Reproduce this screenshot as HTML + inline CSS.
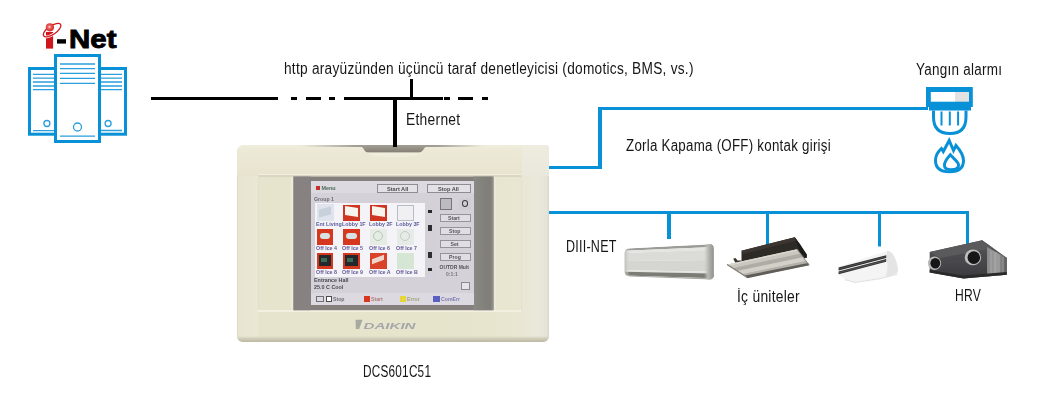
<!DOCTYPE html>
<html><head><meta charset="utf-8">
<style>
html,body{margin:0;padding:0;background:#fff;}
body{width:1049px;height:411px;position:relative;overflow:hidden;font-family:"Liberation Sans",sans-serif;}
.t{position:absolute;white-space:nowrap;color:#161616;font-size:15.8px;line-height:16px;letter-spacing:0.3px;transform-origin:0 0;}
svg{position:absolute;left:0;top:0;}
</style></head><body>

<!-- ===== DCS601C51 device ===== -->
<div style="position:absolute;left:236.5px;top:144.5px;width:312.5px;height:197.2px;border-radius:7px 4px 6px 6px;background:linear-gradient(90deg,#d8d5c2 0px,#e8e5d2 1.5px,#eae7d5 20px,#e7e4cd 22px,#e7e4cc 60%,#e8e5d0 88%,#eae8da 96%,#e6e4d8 99.3%,#d6d4c8 100%);overflow:hidden;">
  <div style="position:absolute;left:0;top:0;width:100%;height:31px;background:linear-gradient(180deg,#f0eddd 0,#ece9d7 5px,#e9e5d1 25px,#e8e3cf 100%);"></div>
  <div style="position:absolute;left:285px;top:0;width:27.5px;height:31px;background:linear-gradient(180deg,#eeecdf,#e9e8dc);"></div>
  <div style="position:absolute;left:64px;top:0;width:182px;height:2.2px;background:linear-gradient(90deg,rgba(140,134,124,0),#a39e94 30%,#958f85 50%,#a39e94 75%,rgba(140,134,124,0));"></div>
  <div style="position:absolute;left:21.5px;top:29.3px;width:263px;height:1.6px;background:#f3f0e1;"></div>
  <div style="position:absolute;left:21.5px;top:30.9px;width:263px;height:1.2px;background:#d9d5c2;"></div>
  <div style="position:absolute;left:21px;top:31px;width:1px;height:135px;background:#e2dfcb;"></div>
  <div style="position:absolute;left:54px;top:32px;width:3px;height:134px;background:#edeadb;"></div>
  <div style="position:absolute;left:257px;top:32px;width:2px;height:134px;background:#ebe8d9;"></div>
  <div style="position:absolute;left:284.5px;top:31px;width:1px;height:135px;background:#e4e1d0;"></div>
  <div style="position:absolute;left:21.5px;top:165.5px;width:263px;height:1.6px;background:#f3f0e1;"></div>
  <div style="position:absolute;left:0;bottom:0;width:100%;height:5.5px;background:linear-gradient(180deg,rgba(200,197,180,0),#cfccb8 45%,#bbb8a4);"></div>
</div>
<svg width="1049" height="411" viewBox="0 0 1049 411">
  <defs><linearGradient id="ng" x1="0" y1="0" x2="0" y2="1"><stop offset="0" stop-color="#a49f95"/><stop offset="1" stop-color="#837e74"/></linearGradient></defs>
  <!-- notch -->
  <path d="M357.5 145.2H430Q426 145.8 424 148.5Q421.5 152.8 418.5 152.8H368.5Q365.5 152.8 363.5 148.5Q361.5 145.8 357.5 145.2Z" fill="url(#ng)"/>
  <path d="M366 152.6H421Q417 157 393 157Q370 157 366 152.6Z" fill="#f0eddc"/>
  <!-- bezel -->
  <rect x="293.5" y="176.6" width="200" height="133.6" fill="#85807d"/>
  <rect x="293.5" y="176.6" width="17" height="133.6" fill="#878281"/>
  <defs><linearGradient id="bzr" x1="0" y1="0" x2="1" y2="0"><stop offset="0" stop-color="#8a8a84"/><stop offset="0.5" stop-color="#82817c"/><stop offset="0.85" stop-color="#7f7e79"/><stop offset="1" stop-color="#97968d"/></linearGradient></defs>
  <rect x="473.5" y="176.6" width="20" height="133.6" fill="url(#bzr)"/>
  <!-- DAIKIN logo -->
  <g filter="url(#soft)">
  <path d="M355.5 319.8H362.5L359.2 329H355.8Z" fill="#a9a9a4"/>
  <text x="363.5" y="328.6" font-family="Liberation Sans" font-weight="bold" font-style="italic" font-size="9" fill="#a6a7aa" textLength="52" lengthAdjust="spacingAndGlyphs">DAIKIN</text>
  </g>
  <filter id="soft"><feGaussianBlur stdDeviation="0.45"/></filter>
</svg>
<!-- LCD -->
<div style="position:absolute;left:311px;top:181px;width:163px;height:124px;background:#d4d2d8;overflow:hidden;filter:blur(0.35px);">
  <div style="position:absolute;left:0px;top:0px;width:163px;height:11.5px;background:#dcdae0;"></div>
  <div style="position:absolute;left:5.3px;top:5px;width:4px;height:3.5px;background:#c4302a;"></div>
  <div style="position:absolute;left:10.5px;top:3.6px;font:bold 5.4px/6px 'Liberation Sans',sans-serif;color:#4d6a58;white-space:nowrap;">Menu</div>
  <div style="position:absolute;left:66.2px;top:3.2px;width:41px;height:8.8px;background:#e3e1e6;border:1px solid #8f8c94;box-sizing:border-box;"></div>
  <div style="position:absolute;left:76px;top:4.5px;font:bold 5.6px/6px 'Liberation Sans',sans-serif;color:#4a4850;white-space:nowrap;">Start All</div>
  <div style="position:absolute;left:115.5px;top:3.2px;width:44.3px;height:8.8px;background:#e3e1e6;border:1px solid #8f8c94;box-sizing:border-box;"></div>
  <div style="position:absolute;left:127px;top:4.5px;font:bold 5.6px/6px 'Liberation Sans',sans-serif;color:#4a4850;white-space:nowrap;">Stop All</div>
  <div style="position:absolute;left:3px;top:15.2px;font:bold 5.2px/6px 'Liberation Sans',sans-serif;color:#6a6874;white-space:nowrap;">Group 1</div>
  <div style="position:absolute;left:3.8px;top:22px;width:110.2px;height:74px;background:#f4f3f7;"></div>
  <div style="position:absolute;left:114px;top:22px;width:10.3px;height:74px;background:#d3d1d7;"></div>
  <div style="position:absolute;left:117px;top:28.5px;width:4px;height:3px;background:#2a2a2e;"></div>
  <div style="position:absolute;left:117px;top:44px;width:3.5px;height:6px;background:#2e2e32;"></div>
  <div style="position:absolute;left:117px;top:71px;width:3.5px;height:6px;background:#2e2e32;"></div>
  <div style="position:absolute;left:117px;top:87px;width:4px;height:3px;background:#2a2a2e;"></div>
  <div style="position:absolute;left:5.5px;top:23px;width:17px;height:16.5px;background:#dfe3ee;"></div>
  <div style="position:absolute;left:8px;top:27px;width:12px;height:8px;background:#c8d0dc;transform:skewY(-15deg);"></div>
  <div style="position:absolute;left:32.2px;top:23.5px;width:16.5px;height:16px;background:#cf3520;"></div>
  <div style="position:absolute;left:34.2px;top:25.5px;width:12.5px;height:9px;background:#f7f4ee;transform:skewY(8deg);"></div>
  <div style="position:absolute;left:59px;top:23.5px;width:16.5px;height:16px;background:#cf3520;"></div>
  <div style="position:absolute;left:61px;top:25.5px;width:12.5px;height:9px;background:#f7f4ee;transform:skewY(8deg);"></div>
  <div style="position:absolute;left:86px;top:23.5px;width:16.5px;height:16px;background:#f0f0f2;border:1px solid #b8bcc4;box-sizing:border-box;"></div>
  <div style="position:absolute;left:5.5px;top:47.5px;width:16.5px;height:16px;background:#d5381f;"></div>
  <div style="position:absolute;left:8.5px;top:52px;width:10.5px;height:6px;background:#d7e2e4;border-radius:3px;"></div>
  <div style="position:absolute;left:32.2px;top:47.5px;width:16.5px;height:16px;background:#d5381f;"></div>
  <div style="position:absolute;left:35.2px;top:52px;width:10.5px;height:6px;background:#d7e2e4;border-radius:3px;"></div>
  <div style="position:absolute;left:59px;top:47.5px;width:16.5px;height:16px;background:#e4ece4;"></div>
  <div style="position:absolute;left:62px;top:50px;width:10px;height:10px;border:1.5px solid #b7c9b9;border-radius:50%;box-sizing:border-box;"></div>
  <div style="position:absolute;left:86px;top:47.5px;width:16.5px;height:16px;background:#e7ebe7;"></div>
  <div style="position:absolute;left:89px;top:50px;width:10px;height:10px;border:1.5px solid #c3cdc3;border-radius:50%;box-sizing:border-box;"></div>
  <div style="position:absolute;left:5.5px;top:71.5px;width:16.5px;height:16px;background:#d5381f;"></div>
  <div style="position:absolute;left:7.5px;top:73.5px;width:12.5px;height:11px;background:#25282a;"></div>
  <div style="position:absolute;left:9.5px;top:77px;width:6px;height:4px;background:#3c6a55;"></div>
  <div style="position:absolute;left:32.2px;top:71.5px;width:16.5px;height:16px;background:#d5381f;"></div>
  <div style="position:absolute;left:34.2px;top:73.5px;width:12.5px;height:11px;background:#25282a;"></div>
  <div style="position:absolute;left:36.2px;top:77px;width:6px;height:4px;background:#3c6a55;"></div>
  <div style="position:absolute;left:59px;top:71.5px;width:16.5px;height:16px;background:#d9432a;"></div>
  <div style="position:absolute;left:61px;top:76px;width:12px;height:5px;background:#edd6cc;transform:skewY(-20deg);"></div>
  <div style="position:absolute;left:86px;top:71.5px;width:16.5px;height:16px;background:#d6e6d4;"></div>
  <div style="position:absolute;left:4.5px;top:39.6px;font:bold 5.6px/6px 'Liberation Sans',sans-serif;color:#3c3f8a;white-space:nowrap;transform:scaleX(0.95);transform-origin:0 0;opacity:.85">Ent Living</div>
  <div style="position:absolute;left:31.2px;top:39.6px;font:bold 5.6px/6px 'Liberation Sans',sans-serif;color:#3c3f8a;white-space:nowrap;transform:scaleX(0.95);transform-origin:0 0;opacity:.85">Lobby 1F</div>
  <div style="position:absolute;left:57.8px;top:39.6px;font:bold 5.6px/6px 'Liberation Sans',sans-serif;color:#3c3f8a;white-space:nowrap;transform:scaleX(0.95);transform-origin:0 0;opacity:.85">Lobby 2F</div>
  <div style="position:absolute;left:84.6px;top:39.6px;font:bold 5.6px/6px 'Liberation Sans',sans-serif;color:#3c3f8a;white-space:nowrap;transform:scaleX(0.95);transform-origin:0 0;opacity:.85">Lobby 3F</div>
  <div style="position:absolute;left:4.5px;top:64.2px;font:bold 5.6px/6px 'Liberation Sans',sans-serif;color:#4a3f86;white-space:nowrap;transform:scaleX(0.95);transform-origin:0 0;opacity:.85">Off Ice 4</div>
  <div style="position:absolute;left:31.2px;top:64.2px;font:bold 5.6px/6px 'Liberation Sans',sans-serif;color:#4a3f86;white-space:nowrap;transform:scaleX(0.95);transform-origin:0 0;opacity:.85">Off Ice 5</div>
  <div style="position:absolute;left:57.8px;top:64.2px;font:bold 5.6px/6px 'Liberation Sans',sans-serif;color:#4a3f86;white-space:nowrap;transform:scaleX(0.95);transform-origin:0 0;opacity:.85">Off Ice 6</div>
  <div style="position:absolute;left:84.6px;top:64.2px;font:bold 5.6px/6px 'Liberation Sans',sans-serif;color:#4a3f86;white-space:nowrap;transform:scaleX(0.95);transform-origin:0 0;opacity:.85">Off Ice 7</div>
  <div style="position:absolute;left:4.5px;top:88px;font:bold 5.6px/6px 'Liberation Sans',sans-serif;color:#4a3f86;white-space:nowrap;transform:scaleX(0.95);transform-origin:0 0;opacity:.85">Off Ice 8</div>
  <div style="position:absolute;left:31.2px;top:88px;font:bold 5.6px/6px 'Liberation Sans',sans-serif;color:#4a3f86;white-space:nowrap;transform:scaleX(0.95);transform-origin:0 0;opacity:.85">Off Ice 9</div>
  <div style="position:absolute;left:57.8px;top:88px;font:bold 5.6px/6px 'Liberation Sans',sans-serif;color:#4a3f86;white-space:nowrap;transform:scaleX(0.95);transform-origin:0 0;opacity:.85">Off Ice A</div>
  <div style="position:absolute;left:84.6px;top:88px;font:bold 5.6px/6px 'Liberation Sans',sans-serif;color:#4a3f86;white-space:nowrap;transform:scaleX(0.95);transform-origin:0 0;opacity:.85">Off Ice B</div>
  <div style="position:absolute;left:3px;top:96.3px;font:bold 5.4px/6px 'Liberation Sans',sans-serif;color:#4a4852;white-space:nowrap;">Entrance Hall</div>
  <div style="position:absolute;left:3px;top:102.5px;font:bold 5.4px/6px 'Liberation Sans',sans-serif;color:#4a4852;white-space:nowrap;">25.0 C  Cool</div>
  <div style="position:absolute;left:128.5px;top:17px;width:12.4px;height:11.5px;background:#bdbbc2;border:1px solid #77757c;box-sizing:border-box;"></div>
  <div style="position:absolute;left:148px;top:17px;width:11.5px;height:11.5px;background:#cfcdd3;"></div>
  <div style="position:absolute;left:150.5px;top:19px;width:6.5px;height:7px;border:1.5px solid #3c3a40;border-radius:50%;box-sizing:border-box;"></div>
  <div style="position:absolute;left:128.5px;top:32.8px;width:31px;height:8.2px;background:#e0dee4;border:1px solid #96939b;box-sizing:border-box;"></div>
  <div style="position:absolute;left:137px;top:34.2px;font:bold 5.2px/6px 'Liberation Sans',sans-serif;color:#55535c;white-space:nowrap;">Start</div>
  <div style="position:absolute;left:128.5px;top:45.8px;width:31px;height:8.2px;background:#e0dee4;border:1px solid #96939b;box-sizing:border-box;"></div>
  <div style="position:absolute;left:138px;top:47.2px;font:bold 5.2px/6px 'Liberation Sans',sans-serif;color:#55535c;white-space:nowrap;">Stop</div>
  <div style="position:absolute;left:128.5px;top:58.8px;width:31px;height:8.2px;background:#e0dee4;border:1px solid #96939b;box-sizing:border-box;"></div>
  <div style="position:absolute;left:139.5px;top:60.2px;font:bold 5.2px/6px 'Liberation Sans',sans-serif;color:#55535c;white-space:nowrap;">Set</div>
  <div style="position:absolute;left:128.5px;top:71.8px;width:31px;height:8.2px;background:#e0dee4;border:1px solid #96939b;box-sizing:border-box;"></div>
  <div style="position:absolute;left:138px;top:73.2px;font:bold 5.2px/6px 'Liberation Sans',sans-serif;color:#55535c;white-space:nowrap;">Prog</div>
  <div style="position:absolute;left:128.5px;top:83px;font:bold 5px/6px 'Liberation Sans',sans-serif;color:#55535c;white-space:nowrap;">OUTDR Mult</div>
  <div style="position:absolute;left:135px;top:90px;font:bold 5px/6px 'Liberation Sans',sans-serif;color:#77757e;white-space:nowrap;">0:1:1</div>
  <div style="position:absolute;left:150px;top:100.7px;width:8.5px;height:8.5px;background:#e6e4e8;border:1px solid #8d8a90;box-sizing:border-box;"></div>
  <div style="position:absolute;left:0px;top:112px;width:163px;height:12px;background:#dcdae0;"></div>
  <div style="position:absolute;left:5px;top:114.5px;width:8px;height:6.5px;border:1px solid #6f6f74;box-sizing:border-box;"></div>
  <div style="position:absolute;left:14.5px;top:114.5px;width:6.5px;height:6.5px;border:1px solid #4c4c50;box-sizing:border-box;background:#fff;"></div>
  <div style="position:absolute;left:22px;top:114.8px;font:bold 5.2px/6px 'Liberation Sans',sans-serif;color:#6d6b74;white-space:nowrap;">Stop</div>
  <div style="position:absolute;left:52.5px;top:114.5px;width:6.5px;height:6.5px;background:#d8361e;"></div>
  <div style="position:absolute;left:60px;top:114.8px;font:bold 5.2px/6px 'Liberation Sans',sans-serif;color:#b07a78;white-space:nowrap;">Start</div>
  <div style="position:absolute;left:88.5px;top:114.5px;width:6.5px;height:6.5px;background:#e6d63a;"></div>
  <div style="position:absolute;left:96px;top:114.8px;font:bold 5.2px/6px 'Liberation Sans',sans-serif;color:#a2a07a;white-space:nowrap;">Error</div>
  <div style="position:absolute;left:122px;top:114.5px;width:6.5px;height:6.5px;background:#5b5fc0;"></div>
  <div style="position:absolute;left:130px;top:114.8px;font:bold 5.2px/6px 'Liberation Sans',sans-serif;color:#7d7bb0;white-space:nowrap;">ComErr</div>
</div>
<svg width="1049" height="411" viewBox="0 0 1049 411">
<!-- ===== servers ===== -->
<g stroke="#0891d7" fill="#fff">
  <rect x="29.5" y="68.5" width="27" height="65.7" stroke-width="3"/>
  <rect x="98.5" y="68.5" width="27" height="65.7" stroke-width="3"/>
  <rect x="55.5" y="55.5" width="44" height="86" stroke-width="3"/>
</g>
<g stroke="#2a9fdd" stroke-width="1.3" fill="none">
  <path d="M33 74.3H54M33 78.2H54M33 82H54M33 86H54M33 89.6H54"/>
  <path d="M101 74.3H122M101 78.2H122M101 82H122M101 86H122M101 89.6H122"/>
  <path d="M60 64H95M60 68.6H95M60 73.4H95M60 78.4H95M60 83.4H95"/>
  <path d="M33 130.7H54M101 130.5H122M60 136.2H95"/>
  <circle cx="46.9" cy="123.5" r="3"/>
  <circle cx="108.1" cy="123.5" r="3"/>
  <circle cx="77.5" cy="127" r="4"/>
</g>
<!-- i-Net logo -->
<g>
  <rect x="46" y="32" width="7.1" height="16.6" fill="#d0161d"/>
  <ellipse cx="52.1" cy="30.1" rx="10.2" ry="4.3" transform="rotate(-34 52.1 30.1)" fill="none" stroke="#fff" stroke-width="2.6"/>
  <ellipse cx="52.1" cy="30.1" rx="10.2" ry="4.3" transform="rotate(-34 52.1 30.1)" fill="none" stroke="#d3161d" stroke-width="1.2"/>
  <radialGradient id="ball" cx="0.45" cy="0.45" r="0.6"><stop offset="0" stop-color="#fbe4dc"/><stop offset="0.35" stop-color="#e8615a"/><stop offset="1" stop-color="#d11b20"/></radialGradient>
  <circle cx="49.9" cy="27.3" r="4.1" fill="url(#ball)"/>
  <rect x="57" y="39.2" width="9" height="4.4" fill="#000"/>
  <text x="69" y="48.4" font-family="Liberation Sans" font-weight="bold" font-size="26.5" fill="#000" stroke="#000" stroke-width="0.9" textLength="47.5" lengthAdjust="spacingAndGlyphs">Net</text>
</g>
<!-- ===== black ethernet lines ===== -->
<g fill="#000">
  <rect x="151" y="97" width="127" height="3"/>
  <rect x="291" y="97" width="6" height="3"/>
  <rect x="306" y="97" width="15" height="3"/>
  <rect x="329" y="97" width="6" height="3"/>
  <rect x="344" y="97" width="99" height="3"/>
  <rect x="444" y="97" width="6" height="3"/>
  <rect x="458" y="97" width="15" height="3"/>
  <rect x="482" y="97" width="6" height="3"/>
  <rect x="410" y="79" width="3" height="19"/>
  <rect x="393" y="97" width="4" height="50"/>
</g>
<!-- ===== blue lines ===== -->
<g fill="#0891d7">
  <rect x="549" y="166" width="53" height="3"/>
  <rect x="598" y="107" width="4" height="62"/>
  <rect x="598" y="107" width="330" height="3"/>
  <rect x="549" y="211" width="420" height="3"/>
  <rect x="667" y="211" width="4" height="28"/>
  <rect x="766" y="211" width="3" height="34"/>
  <rect x="878" y="211" width="3" height="35.5"/>
  <rect x="966" y="211" width="3" height="34"/>
</g>
<!-- ===== fire alarm ===== -->
<g>
  <rect x="926" y="87" width="46.8" height="20" fill="#0891d7"/>
  <rect x="929" y="106" width="42" height="4.5" fill="#0891d7"/>
  <rect x="930.8" y="92" width="24.2" height="9.7" fill="#fff"/>
  <rect x="955" y="92" width="14" height="9.7" fill="#e2e2e2"/>
  <path d="M933.5 110.5V117Q933.5 133.5 950 133.5Q966 133.5 966 117V110.5" fill="none" stroke="#0891d7" stroke-width="3"/>
  <path d="M941.5 111.5V125.5M949.8 111.5V125.5M958.1 111.5V125.5" stroke="#0891d7" stroke-width="2"/>
  <path d="M949.2 140.5L953.5 150.5L956 145.5Q963.5 154 963.5 160.5Q963.5 171.8 949.5 171.8Q935.5 171.8 935.5 160.5Q935.5 154 941.4 148.5L943.3 151.5Z" fill="none" stroke="#0891d7" stroke-width="3" stroke-linejoin="miter"/>
  <path d="M950.3 154.8C954 159 958.6 162 958.6 165.2C958.6 168.3 955 169.6 951 169.6C947 169.6 944.4 168.3 944.4 165.2C944.4 162 947 158.5 950.3 154.8Z" fill="none" stroke="#0891d7" stroke-width="2.9"/>
</g>
</svg>


<!-- ===== indoor units ===== -->
<svg width="1049" height="411" viewBox="0 0 1049 411">
  <defs>
    <filter id="ub" x="-5%" y="-5%" width="110%" height="110%"><feGaussianBlur stdDeviation="0.35"/></filter>
    <clipPath id="wc"><path d="M629 248.4L709 244.1Q713.8 244 713.8 249L713.8 275Q713.8 279.6 709 279.4L630 276.6Q624.6 276.2 624.6 271L624.6 253.5Q624.6 248.7 629 248.4Z"/></clipPath>
    <linearGradient id="wcap" x1="0" y1="0" x2="1" y2="0"><stop offset="0" stop-color="#c9c9c5" stop-opacity="0"/><stop offset="0.4" stop-color="#b9b9b5"/><stop offset="1" stop-color="#8e8e8a"/></linearGradient>
    <linearGradient id="wlc" x1="0" y1="0" x2="1" y2="0"><stop offset="0" stop-color="#b8b8b4"/><stop offset="1" stop-color="#d8d8d4" stop-opacity="0"/></linearGradient>
    <linearGradient id="cp" x1="0" y1="0" x2="1" y2="0.3"><stop offset="0" stop-color="#c9c8c0"/><stop offset="0.5" stop-color="#a9a8a0"/><stop offset="1" stop-color="#d2d1ca"/></linearGradient>
    <linearGradient id="hf" x1="0" y1="0" x2="0" y2="1"><stop offset="0" stop-color="#565658"/><stop offset="0.55" stop-color="#48484b"/><stop offset="1" stop-color="#3a3a3d"/></linearGradient>
    <linearGradient id="hs" x1="0" y1="0" x2="1" y2="0"><stop offset="0" stop-color="#8a8a8a"/><stop offset="0.5" stop-color="#9c9c9c"/><stop offset="1" stop-color="#5a5a5a"/></linearGradient>
  </defs>
  <g filter="url(#ub)">
  <!-- wall-mounted -->
  <g clip-path="url(#wc)">
    <path d="M624.5 248.6L713.8 244.2L713.8 247.0L624.5 250.8Z" fill="#9b9b97"/>
    <path d="M624.5 250.8L713.8 247.0L713.8 249.8L624.5 253.0Z" fill="#e4e4e1"/>
    <path d="M624.5 253.0L713.8 249.8L713.8 260.0L624.5 261.1Z" fill="#dbdbd7"/>
    <path d="M624.5 261.1L713.8 260.0L713.8 271.7L624.5 270.3Z" fill="#d5d5d1"/>
    <path d="M624.5 270.3L713.8 271.7L713.8 273.4L624.5 271.7Z" fill="#e2e2de"/>
    <path d="M624.5 271.7L713.8 273.4L713.8 278.3L624.5 275.6Z" fill="#7c7c77"/>
    <path d="M624.5 275.6L713.8 278.3L713.8 280L624.5 277Z" fill="#a9a9a4"/>
    <rect x="704" y="243" width="10" height="38" fill="url(#wcap)"/>
    <rect x="624" y="246" width="6" height="33" fill="url(#wlc)"/>
  </g>
  <!-- cassette -->
  <path d="M741.5 250.8L794.8 237.3L800 244L806.7 254.4L806.7 258L741.5 262Z" fill="#2f2927"/>
  <path d="M741.5 250.8L794.8 237.3L797 240.5L743 254Z" fill="#3d3633"/>
  <path d="M794.8 237.3L806.7 254.4L806.7 258L800 252Z" fill="#1f1b1a"/>
  <path d="M733.2 258.8L735.5 258L737.5 260.5L741.5 260.5L741.5 262.5L735.5 263Z" fill="#3a3431"/>
  <path d="M727 264.6L797 249.2L809.3 265.2L747.3 277.6Z" fill="#bfbdb4"/>
  <path d="M727.0 264.6L797.0 249.2L798.2 250.8L729.0 265.9Z" fill="#d9d7cf"/>
  <path d="M729.0 265.9L798.2 250.8L800.4 253.7L732.7 268.2Z" fill="#c9c7be"/>
  <path d="M732.7 268.2L800.4 253.7L803.1 257.2L737.1 271.1Z" fill="#aeaca4"/>
  <path d="M737.1 271.1L803.1 257.2L806.1 261.0L742.0 274.2Z" fill="#d2d0c7"/>
  <path d="M742.0 274.2L806.1 261.0L808.1 263.6L745.3 276.3Z" fill="#b3b1a9"/>
  <path d="M744.8 275.6L808.1 263.1L809.3 265.2L747.3 278.2Z" fill="#5f5d58"/>
  <path d="M727 264.6L747.3 277.6" stroke="#7d7b74" stroke-width="1.2"/>
  <path d="M797 249.2L809.3 265.2" stroke="#8a8880" stroke-width="1"/>
  <!-- ceiling suspended -->
  <path d="M838.5 266.8L887.2 250.8Q891 251 894 256Q898 264 898 271.5Q897.5 274 880 278L855 281.8L845 279L838.5 275Z" fill="#f4f4f4"/>
  <path d="M887.2 250.8Q891 251 894 256Q898 264 898 271.5Q897.5 274 886 276.5Q889 266 886 257Z" fill="#e4e4e4"/>
  <path d="M845 279L855 281.8L880 278L897.5 273.5L897.5 274.8L880 279.3L855 283L845 280.2Z" fill="#e2e2e2"/>
  <path d="M838.6 267.6L886.2 255.2L886.2 258.1L838.6 270.5Z" fill="#2b2b2b"/>
  <path d="M838.6 271.4L886.2 259L886.2 261.8L838.6 274.3Z" fill="#333"/>
  <path d="M838.6 269L886.2 256.6M838.6 272.8L886.2 260.4" stroke="#6a6a6a" stroke-width="0.6"/>
  <!-- HRV -->
  <path d="M929.7 251.9L982.2 240.3L1006.7 257.8L1006.7 274.7L963.5 278.6L929.7 272.4Z" fill="url(#hf)"/>
  <path d="M929.7 251.9L982.2 240.3L993 248L940 258Z" fill="#5a5a5c"/>
  <path d="M987 247L1006.7 257.8L1006.7 274.7L987 276.5Z" fill="url(#hs)"/>
  <path d="M991 251V275M995 253V275M999 255V275M1003 257V275" stroke="#b8b8b8" stroke-width="1" opacity="0.6"/>
  <path d="M929.7 270L963.5 275.5L1006.7 272L1006.7 274.7L963.5 278.6L929.7 272.4Z" fill="#2a2a2c"/>
  <ellipse cx="934.5" cy="263.2" rx="6.6" ry="6.8" fill="#b9b9b9"/>
  <ellipse cx="935.3" cy="263.2" rx="4.9" ry="5.3" fill="#161616"/>
  <ellipse cx="972.9" cy="257.4" rx="8.2" ry="7.9" fill="#bdbdbd"/>
  <ellipse cx="973.8" cy="257.6" rx="6.3" ry="6.3" fill="#121212"/>
  </g>
</svg>

<div class="t" style="left:283.5px;top:61px;transform:scaleX(0.866);">http arayüzünden üçüncü taraf denetleyicisi (domotics, BMS, vs.)</div>
<div class="t" style="left:406px;top:112px;transform:scaleX(0.876);">Ethernet</div>
<div class="t" style="left:625.5px;top:137.7px;transform:scaleX(0.843);">Zorla Kapama (OFF) kontak girişi</div>
<div class="t" style="left:916px;top:61.5px;transform:scaleX(0.854);">Yangın alarmı</div>
<div class="t" style="left:565.5px;top:238.5px;transform:scaleX(0.793);">DIII-NET</div>
<div class="t" style="left:737px;top:288.5px;transform:scaleX(0.877);">İç üniteler</div>
<div class="t" style="left:954.5px;top:288px;transform:scaleX(0.767);">HRV</div>
<div class="t" style="left:363px;top:364px;transform:scaleX(0.746);">DCS601C51</div>
</body></html>
